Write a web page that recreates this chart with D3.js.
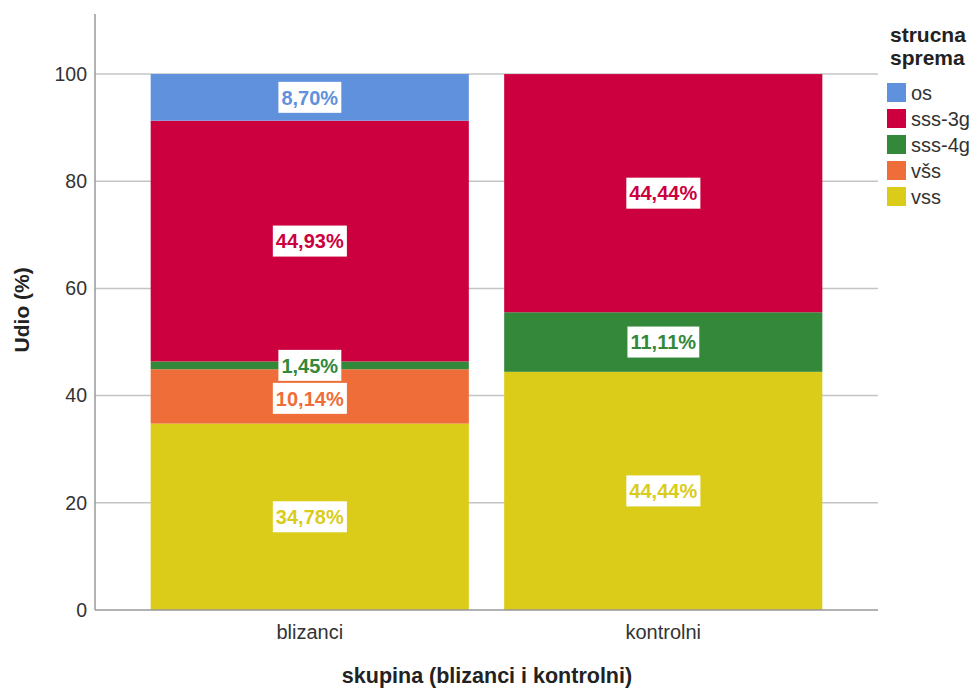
<!DOCTYPE html>
<html>
<head>
<meta charset="utf-8">
<script src="https://cdn.jsdelivr.net/npm/d3@7"></script>
<style>
  body { margin: 0; background: #fff; }
  text { font-family: "Liberation Sans", Arial, sans-serif; }
</style>
</head>
<body>
<svg id="chart" width="977" height="690"></svg>
<script>
const groups = ['blizanci', 'kontrolni'];
const levels = ['vss', 'všs', 'sss-4g', 'sss-3g', 'os']; // bottom to top
const legendOrder = ['os', 'sss-3g', 'sss-4g', 'všs', 'vss'];
const blizanci = [34.78, 10.14, 1.45, 44.93, 8.70];
const kontrolni = [44.44, 0, 11.11, 44.44, 0];
const yTicks = [0, 20, 40, 60, 80, 100];
const colors = ['#dacc19', '#ef6d39', '#33883a', '#cc003f', '#5f91dd'];

const svg = d3.select('#chart');

const plotLeft = 95, plotRight = 878, plotTop = 14, plotBottom = 610;

const color = d3.scaleOrdinal().domain(levels).range(colors);

const rows = groups.map((g, i) => {
  const vals = i === 0 ? blizanci : kontrolni;
  const r = { group: g };
  levels.forEach((l, j) => (r[l] = vals[j]));
  return r;
});

const series = d3.stack().keys(levels)(rows);

const x = d3.scaleBand()
  .domain(groups)
  .range([133, 840])
  .paddingInner(0.1)
  .paddingOuter(0.05);

const y = d3.scaleLinear()
  .domain([0, 111.2])
  .range([plotBottom, plotTop]);

// gridlines
svg.append('g')
  .selectAll('line')
  .data(yTicks.filter(d => d > 0))
  .join('line')
  .attr('x1', plotLeft)
  .attr('x2', plotRight)
  .attr('y1', d => y(d))
  .attr('y2', d => y(d))
  .attr('stroke', '#c4c4c4')
  .attr('stroke-width', 1.5);

// bars
svg.append('g')
  .selectAll('g')
  .data(series)
  .join('g')
  .attr('fill', d => color(d.key))
  .selectAll('rect')
  .data(d => d)
  .join('rect')
  .attr('x', d => x(d.data.group))
  .attr('width', x.bandwidth())
  .attr('y', d => y(d[1]))
  .attr('height', d => y(d[0]) - y(d[1]));

// axes
const yAxis = svg.append('g')
  .attr('transform', `translate(${plotLeft},0)`)
  .call(d3.axisLeft(y).tickValues(yTicks).tickSize(0).tickPadding(8));
yAxis.select('.domain').remove();
yAxis.selectAll('text')
  .attr('font-size', 19.5)
  .attr('fill', '#333')
  .style('font-family', '"Liberation Sans", Arial, sans-serif');

const xAxis = svg.append('g')
  .attr('transform', `translate(0,${plotBottom})`)
  .call(d3.axisBottom(x).tickSize(0).tickPadding(0));
xAxis.select('.domain').remove();
xAxis.selectAll('text')
  .attr('dy', null)
  .attr('y', 29)
  .attr('font-size', 20)
  .attr('fill', '#333')
  .style('font-family', '"Liberation Sans", Arial, sans-serif');

svg.append('line')
  .attr('x1', plotLeft).attr('x2', plotLeft)
  .attr('y1', plotTop).attr('y2', plotBottom)
  .attr('stroke', '#999').attr('stroke-width', 1.5);
svg.append('line')
  .attr('x1', plotLeft).attr('x2', plotRight)
  .attr('y1', plotBottom).attr('y2', plotBottom)
  .attr('stroke', '#999').attr('stroke-width', 1.5);

// segment labels, pushed apart a little when they crowd each other
const boxH = 31;
const labels = [];
series.forEach(s => {
  s.forEach(d => {
    const v = d[1] - d[0];
    if (v > 0) labels.push({ key: s.key, group: d.data.group, v, cy: y((d[0] + d[1]) / 2) });
  });
});
groups.forEach(g => {
  const inBar = labels.filter(l => l.group === g).sort((a, b) => a.cy - b.cy);
  for (let i = 1; i < inBar.length; i++) {
    const minY = inBar[i - 1].cy + boxH + 2;
    if (inBar[i].cy < minY) inBar[i].cy = minY;
  }
});

const fmt = v => v.toFixed(2).replace('.', ',') + '%';

const lab = svg.append('g')
  .selectAll('g')
  .data(labels)
  .join('g')
  .attr('transform', d => `translate(${x(d.group) + x.bandwidth() / 2},${d.cy})`);

lab.append('text')
  .attr('text-anchor', 'middle')
  .attr('dy', '0.36em')
  .attr('font-size', 20)
  .attr('font-weight', 'bold')
  .attr('fill', d => color(d.key))
  .text(d => fmt(d.v))
  .each(function() {
    const b = this.getBBox();
    d3.select(this.parentNode).insert('rect', 'text')
      .attr('x', b.x - 3)
      .attr('y', -boxH / 2)
      .attr('width', b.width + 6)
      .attr('height', boxH)
      .attr('fill', '#fff');
  });

// axis titles
svg.append('text')
  .attr('transform', `translate(29,${y(56)}) rotate(-90)`)
  .attr('text-anchor', 'middle')
  .attr('font-size', 21)
  .attr('font-weight', 'bold')
  .attr('fill', '#222')
  .text('Udio (%)');

svg.append('text')
  .attr('x', 487)
  .attr('y', 683)
  .attr('text-anchor', 'middle')
  .attr('font-size', 21.5)
  .attr('font-weight', 'bold')
  .attr('fill', '#222')
  .text('skupina (blizanci i kontrolni)');

// legend
const legend = svg.append('g').attr('transform', 'translate(887,0)');
legend.append('text')
  .attr('x', 3).attr('y', 42)
  .attr('font-size', 21).attr('font-weight', 'bold').attr('fill', '#222')
  .text('strucna');
legend.append('text')
  .attr('x', 3).attr('y', 65)
  .attr('font-size', 21).attr('font-weight', 'bold').attr('fill', '#222')
  .text('sprema');

const item = legend.selectAll('g.item')
  .data(legendOrder)
  .join('g')
  .attr('class', 'item')
  .attr('transform', (d, i) => `translate(0,${83 + i * 26})`);
item.append('rect')
  .attr('width', 19).attr('height', 19)
  .attr('fill', d => color(d));
item.append('text')
  .attr('x', 24).attr('y', 10).attr('dy', '0.36em')
  .attr('font-size', 20).attr('fill', '#333')
  .text(d => d);
</script>
</body>
</html>
